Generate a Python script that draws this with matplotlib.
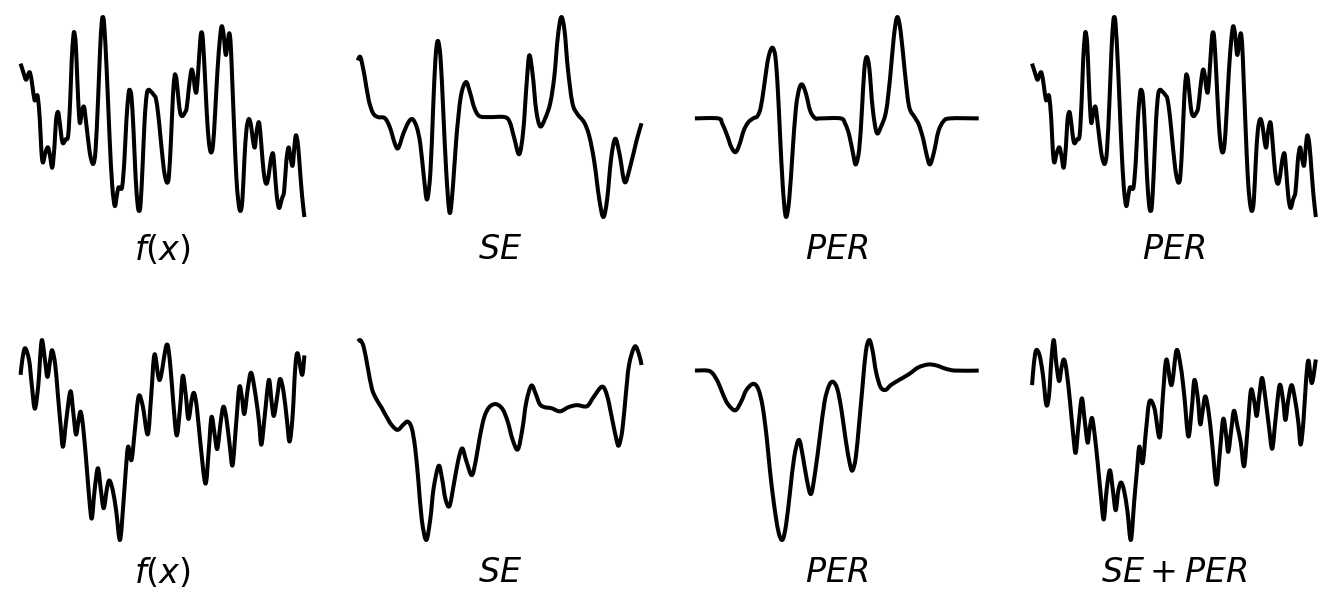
import numpy as np
import matplotlib
matplotlib.use("Agg")
from matplotlib import pyplot as plt
from matplotlib.path import Path
from matplotlib.patches import PathPatch

# ---- top row: target f(x) and its SE / PER components ----
top_f_t = [0, 2.5, 5.3, 7.3, 9.3, 11.5, 13.7, 15.5, 17, 19, 20.5, 22, 24.5, 27, 29, 31.3,
           33.5, 35, 37, 39, 40.5, 42, 44.5, 47, 49, 50.5, 52, 53, 54.5, 56, 57.5, 58.7,
           60.5, 62.7, 65, 68, 70, 72, 74, 76.5, 78.5, 80, 81, 82.5, 85, 88, 90.5, 93,
           95, 96.5, 98, 100.3, 102.5, 104.5, 106.5, 107.7, 109.5, 111.5, 113.5, 115.5, 117, 118.5,
           120.5, 122.5, 124.5, 126.3, 129, 131.5, 133.7, 136, 138, 140.5, 142.5, 144.7, 146.5, 148.5,
           150.5, 152, 152.7, 154, 156, 157.7, 159.7, 162, 164, 166, 168, 169.3, 171, 172,
           173.7, 175.5, 177.5, 178.7, 180, 182, 184, 186, 188, 190, 192, 194.5, 197, 198.7,
           200.5, 202.5, 204, 206, 207.5, 209, 211, 213, 215, 217, 219, 221, 223, 225.3,
           227.5, 229.5, 231.3, 233, 235.3, 237, 239, 241, 243, 245, 247, 249.3, 251, 253,
           255.3, 258, 260.3, 262.5, 264.7, 266.5, 268.7, 270.5, 272, 274, 276, 278, 280.3]
top_f_v = [53, 45, 37, 42, 44, 32, 17, 20, 20, -3, -33, -45, -35, -30, -38, -50,
           -28, -3, 5, -8, -21, -26, -22, -18, 17, 57, 79, 84, 72, 37, 5, -6,
           5, 10, -8, -33, -43, -46, -33, 17, 67, 92, 99, 92, 47, -23, -68, -88,
           -78, -70, -70, -69, -43, -3, 22, 27, 20, -13, -58, -86, -93, -86,
           -48, -3, 22, 27, 25, 22, 18, 2, -18, -43, -58, -65, -58, -23,
           22, 40, 42, 37, 17, 4, 1, 4, 9, 27, 43, 47, 39, 29,
           25, 47, 77, 84, 77, 42, 2, -25, -35, -28, 2, 47, 79, 90,
           82, 62, 69, 83, 72, 37, -13, -58, -83, -93, -83, -43, -13, -2,
           -8, -23, -30, -15, -5, -18, -43, -61, -66, -58, -43, -36, -53, -78,
           -90, -81, -73, -43, -30, -40, -48, -28, -18, -28, -53, -78, -99]

top_se_t = [0, 2.7, 6.7, 10.7, 15, 20, 26.7, 31.7, 36.7, 40, 45, 50, 54, 58.3, 61.7, 65,
            68.3, 71.7, 74.3, 76.7, 79, 81.7, 84.3, 87.3, 90.7, 94, 97.3, 101.7, 106.7, 110.7, 115, 120,
            130, 145, 150, 154.3, 159.3, 163.3, 166.7, 169.3, 172.7, 176, 180, 185, 190, 194, 197.3, 200.7,
            204, 207.3, 211.7, 216.7, 223.3, 228.3, 233.3, 238.3, 242.3, 246, 250, 254, 258.3, 263.3,
            268.3, 275, 280]
top_se_v = [55, 58, 40, 17, 4, 0, -1, -10, -26, -30, -16, -5, -2, -10, -26, -56,
            -80, -53, 7, 57, 74, 57, 7, -53, -93, -66, -20, 20, 34, 24, 9, 1,
            0, 0, -5, -20, -36, -13, 34, 60, 40, 7, -9, -1, 14, 40, 77, 97,
            84, 47, 14, 3, -5, -18, -43, -80, -97, -80, -40, -21, -36, -63,
            -50, -23, -6]

top_per_t = [0, 23, 27, 31.7, 36, 40.3, 44.3, 48.3, 52.7, 57.7, 61.7, 65, 68.3, 71.7, 74.3, 77,
             79.7, 82, 84.3, 87, 90, 93.3, 96.7, 100, 103.3, 106.3, 110, 114.3, 119.3, 124.3, 144.3, 148.7,
             152.7, 156.7, 159.3, 162.7, 165.3, 167.7, 170, 172.7, 176, 180, 184.3, 189.3, 193.3, 197,
             200.3, 203.7, 207.7, 212, 217.7, 221.7, 226, 229.3, 232.7, 236.7, 241, 246, 252.7, 281]
top_per_v = [0, 0, -5, -16, -28, -33, -25, -12, -4, 0, 2, 10, 30, 54, 65, 69,
             60, 30, -16, -66, -96, -80, -33, 10, 29, 33, 24, 7, 0, 0, 0, -5,
             -16, -35, -45, -30, 7, 47, 60, 49, 10, -14, -8, 7, 40, 80,
             99, 85, 47, 12, 1, -6, -20, -35, -45, -33, -13, -3, 0, 0]

# ---- bottom row ----
bot_f_t = [0.3, 2, 4.7, 8.7, 11.3, 14.3, 17.7, 19.3, 21.3, 24.3, 26.7, 29.3, 31.3, 34.3, 37, 39.7,
           42, 45.3, 49.3, 52, 54.7, 57, 59.3, 62, 65.3, 68, 70.3, 73, 76.3, 79.3, 82, 85.3,
           87.7, 91, 94.3, 98, 101.3, 103.7, 106, 109.3, 112.7, 116.3, 120.3, 125.3, 128.7, 132,
           137, 143.7, 147, 150.3, 153.7, 157, 159.7, 162.7, 165.3, 168.7, 171, 173.7, 177, 182,
           185.3, 188, 191.3, 193.7, 197, 199.7, 202.7, 206, 208.7, 212, 215.3, 218, 220.3, 223.7,
           227, 231.3, 234.7, 237, 240.3, 244.3, 247, 249.3, 252.7, 255.3, 258.7, 262, 264.7, 267.7,
           270.3, 272.7, 277, 279.3]
bot_f_v = [-5, 10, 21, 9, -15, -38, -15, 9, 29, 9, -7, 9, 19, 5, -25, -55,
           -75, -48, -21, -41, -63, -51, -41, -58, -95, -128, -145, -118, -96, -118, -135, -115,
           -108, -118, -138, -166, -131, -98, -75, -88, -58, -26, -35, -63, -25, 15,
           -10, 24, 9, -31, -64, -38, -6, -25, -48, -28, -23, -38, -71, -111,
           -78, -46, -65, -77, -51, -36, -48, -75, -93, -55, -17, -28, -43, -18,
           -3, -25, -51, -73, -45, -10, -31, -45, -25, -9, -21, -48, -70, -45,
           2, 16, -5, 14]

bot_se_t = [0, 2.7, 6, 10, 14, 18.3, 23.3, 28.3, 33.3, 39.3, 45, 49.3, 53.3, 56.7, 60, 63.3,
            67.7, 71.7, 75, 80, 83.3, 86.7, 90.7, 95, 99.3, 103.3, 107.3, 112.7, 116.7, 120.7, 125, 130,
            136.7, 143.3, 148.3, 153.3, 158.3, 162.7, 166.7, 171.7, 176, 180, 185, 191.7, 200, 208.3,
            216.7, 226.7, 233.3, 241.7, 246.7, 251.7, 256, 258.3, 261.7, 265, 268.3, 274, 278.3, 280.7]
bot_se_v = [28, 29, 22, 2, -18, -28, -36, -45, -53, -58, -53, -50, -56, -75, -108, -145,
            -165, -145, -115, -93, -105, -125, -132, -111, -88, -76, -88, -102, -88, -65, -46, -36,
            -33, -38, -50, -68, -77, -58, -31, -15, -23, -33, -36, -37, -40, -36,
            -34, -35, -26, -16, -25, -48, -68, -73, -58, -25, 5, 23, 15, 5]

bot_per_t = [0, 12.7, 17.7, 22.7, 27.7, 32.7, 40, 46, 51, 57.7, 62.7, 67, 71, 74.3, 78.3, 82.7,
             86.7, 90.3, 94.3, 98.3, 103, 107, 111, 115, 119.3, 123.7, 128.3, 132.7, 136.7, 141, 145, 149.3,
             153.3, 156, 159.3, 162.7, 166, 169.3, 172.7, 176, 179.3, 183.7, 188.7, 194.3, 204.3, 212.7,
             221, 231, 239.3, 247.7, 257.7, 281]
bot_per_v = [0, 0, -3, -11, -23, -33, -39, -30, -19, -13, -18, -35, -65, -98, -131, -158,
             -166, -151, -118, -85, -68, -85, -108, -121, -98, -65, -31, -15, -11, -18, -38, -68,
             -91, -98, -85, -51, -15, 19, 30, 19, -1, -16, -19, -14, -8, -3,
             3, 6, 5, 2, 0, 0]

bot_sum_t = [0.3, 2, 4.3, 7.7, 11, 14.3, 17, 19.3, 21.7, 24.3, 27, 29.3, 31.7, 34.3, 37.7, 41,
             43.3, 46, 49.3, 52, 55, 57, 59.3, 61.7, 65, 68.3, 71, 73.7, 77, 80, 82.7, 85.3,
             88, 91, 94.3, 97.7, 101, 103.7, 106, 109.3, 112.7, 116, 121, 126, 129.3, 132.7,
             137.7, 142.7, 147, 150.3, 154.3, 157.7, 160.3, 163.7, 166, 168.3, 171, 174.3, 177.7, 182,
             185.3, 188.7, 191.7, 193.7, 196.7, 199.3, 202.7, 206, 209.3, 212.7, 216, 219.3, 221.7, 224.3,
             227, 230.3, 233.7, 237, 240.3, 244.3, 247.7, 250, 252.7, 256, 259.3, 262.7, 265, 267.7,
             270.3, 272.7, 276, 280]
bot_sum_v = [-15, 5, 19, 14, -5, -34, -25, 9, 29, 5, -11, 2, 10, -1, -31, -65,
             -81, -55, -28, -48, -71, -58, -47, -61, -91, -125, -146, -118, -98, -118, -137, -118,
             -110, -118, -138, -166, -128, -98, -75, -91, -58, -31, -38, -66, -25, 10,
             -15, 19, 2, -25, -65, -38, -10, -28, -53, -41, -26, -41, -71, -112,
             -81, -48, -65, -80, -58, -40, -55, -71, -94, -58, -20, -31, -45, -25,
             -8, -28, -55, -77, -48, -15, -30, -49, -30, -15, -28, -51, -73, -51,
             -11, 9, -13, 10]

top_labels = [r"$f(x)$", r"$SE$", r"$PER$", r"$PER$"]
bot_labels = [r"$f(x)$", r"$SE$", r"$PER$", r"$SE+PER$"]

top_series = [(top_f_t, top_f_v), (top_se_t, top_se_v), (top_per_t, top_per_v), (top_f_t, top_f_v)]
bot_series = [(bot_f_t, bot_f_v), (bot_se_t, bot_se_v), (bot_per_t, bot_per_v), (bot_sum_t, bot_sum_v)]


def smooth_path(t, v):
    # catmull-rom through the points, drawn as cubic bezier segments
    p = np.column_stack([t, v]).astype(float)
    ext = np.vstack([p[0], p, p[-1]])
    verts = [p[0]]
    codes = [Path.MOVETO]
    for i in range(len(p) - 1):
        p0, p1, p2, p3 = ext[i], ext[i + 1], ext[i + 2], ext[i + 3]
        verts += [p1 + (p2 - p0) / 6, p2 - (p3 - p1) / 6, p2]
        codes += [Path.CURVE4] * 3
    return Path(verts, codes)


fig, axes = plt.subplots(2, 4, figsize=(13.37, 6), dpi=100)
plt.subplots_adjust(left=0.0048, right=0.9948, top=0.9883, bottom=0.0833, wspace=0.08, hspace=0.468)

for row, (series, labels) in enumerate([(top_series, top_labels), (bot_series, bot_labels)]):
    for col in range(4):
        ax = axes[row, col]
        t, v = series[col]
        ax.plot(t, v, alpha=0)  # sets the data limits
        ax.add_patch(PathPatch(smooth_path(t, v), fill=False, edgecolor="black",
                               lw=2.9, joinstyle="round", capstyle="butt"))
        ax.set_xticks([])
        ax.set_yticks([])
        for s in ax.spines.values():
            s.set_visible(False)
        ax.set_xlabel(labels[col], fontsize=24)

plt.savefig("out.png", dpi=100)
